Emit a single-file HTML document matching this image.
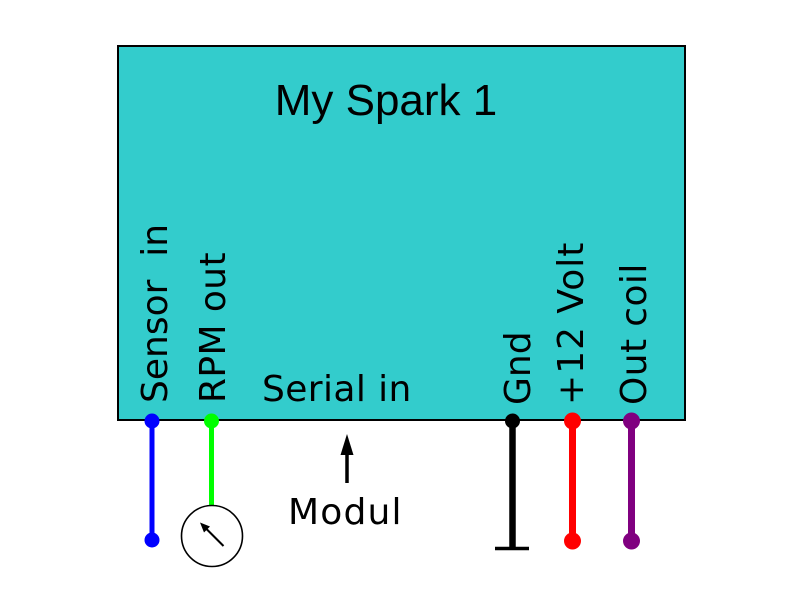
<!DOCTYPE html>
<html>
<head>
<meta charset="utf-8">
<style>
  html,body{margin:0;padding:0;background:#fff;}
  svg{display:block;}
</style>
</head>
<body>
<svg width="800" height="600" viewBox="0 0 800 600" xmlns="http://www.w3.org/2000/svg">
  <rect x="0" y="0" width="800" height="600" fill="#ffffff"/>
  <rect x="118" y="46" width="567" height="374" fill="#33CCCC" stroke="#000" stroke-width="2"/>

  <text x="386" y="115" text-anchor="middle" font-family="Liberation Sans, Arial, sans-serif" font-size="44" fill="#000">My Spark 1</text>

  <g font-family="DejaVu Sans, Verdana, sans-serif" font-size="36" fill="#000">
    <text x="262" y="401" letter-spacing="0.4">Serial in</text>
    <text transform="translate(167,403) rotate(-90)" xml:space="preserve">Sensor  in</text>
    <text transform="translate(225,403) rotate(-90)" letter-spacing="0.4">RPM out</text>
    <text transform="translate(530,405) rotate(-90)">Gnd</text>
    <text transform="translate(583,405) rotate(-90)" letter-spacing="1">+12 Volt</text>
    <text transform="translate(646,405) rotate(-90)" letter-spacing="0.4">Out coil</text>
    <text x="288" y="524" letter-spacing="1.2">Modul</text>
  </g>

  <!-- Sensor in (blue) -->
  <line x1="152" y1="421" x2="152" y2="540" stroke="#0000ff" stroke-width="5"/>
  <circle cx="152" cy="421" r="7.5" fill="#0000ff"/>
  <circle cx="152" cy="540" r="7.5" fill="#0000ff"/>

  <!-- RPM out (green) -->
  <line x1="211.5" y1="421" x2="211.5" y2="506" stroke="#00ff00" stroke-width="5"/>
  <circle cx="211.5" cy="421" r="7.5" fill="#00ff00"/>
  <circle cx="212" cy="536" r="30.5" fill="#fff" stroke="#000" stroke-width="1.6"/>
  <line x1="223.5" y1="546" x2="205" y2="527.5" stroke="#000" stroke-width="2"/>
  <polygon points="200,522.5 210,526.5 204,532.5" fill="#000"/>

  <!-- Modul arrow -->
  <line x1="347" y1="452" x2="347" y2="483" stroke="#000" stroke-width="3.5"/>
  <polygon points="347,434 353.5,455 340.5,455" fill="#000"/>

  <!-- Gnd (black) -->
  <line x1="512.5" y1="421" x2="512.5" y2="548" stroke="#000" stroke-width="6.5"/>
  <circle cx="512.5" cy="421" r="7.5" fill="#000"/>
  <line x1="495" y1="548.5" x2="529" y2="548.5" stroke="#000" stroke-width="3.5"/>

  <!-- +12 Volt (red) -->
  <line x1="572.5" y1="421" x2="572.5" y2="541" stroke="#ff0000" stroke-width="7"/>
  <circle cx="572.5" cy="421" r="8.5" fill="#ff0000"/>
  <circle cx="572.5" cy="541" r="8.5" fill="#ff0000"/>

  <!-- Out coil (purple) -->
  <line x1="631.5" y1="421" x2="631.5" y2="541" stroke="#800080" stroke-width="7"/>
  <circle cx="631.5" cy="421" r="8.5" fill="#800080"/>
  <circle cx="631.5" cy="541" r="8.5" fill="#800080"/>
</svg>
</body>
</html>
